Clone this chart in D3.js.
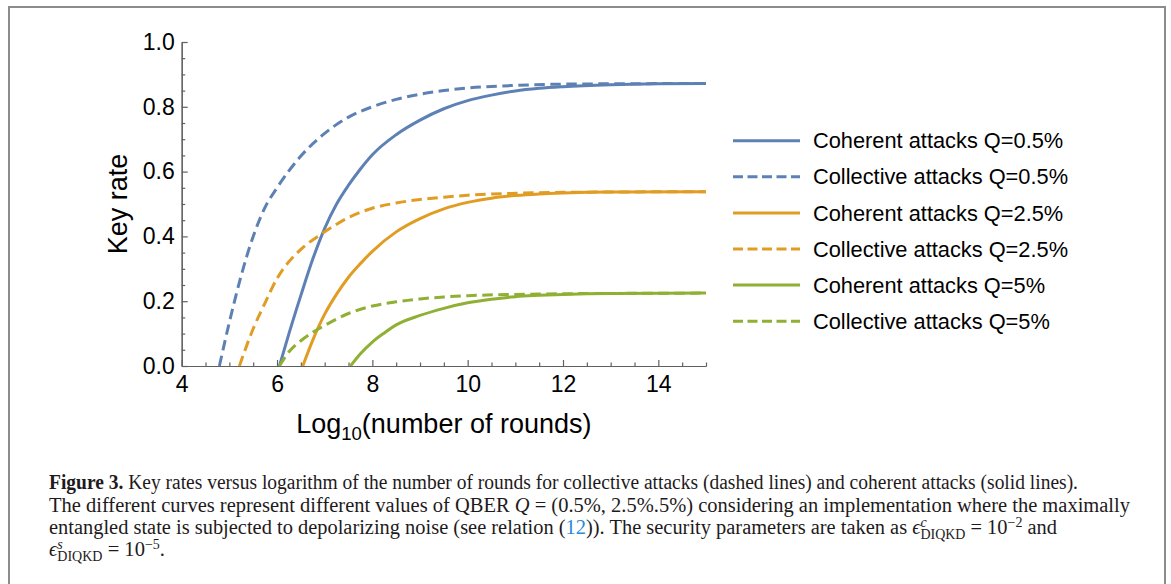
<!DOCTYPE html>
<html>
<head>
<meta charset="utf-8">
<script src="https://cdn.jsdelivr.net/npm/d3@7"></script>
<style>
  html, body { margin: 0; padding: 0; background: #fff; }
  svg { display: block; }
  .chart-text { font-family: 'Liberation Sans', Arial, sans-serif; fill: #000; }
  .caption { font-family: 'Liberation Serif', 'Times New Roman', serif; font-size: 20.5px; fill: #1e1a1b; }
</style>
</head>
<body>
<svg id="chart" width="1171" height="584"></svg>
<script>
// curves: [log10(number of rounds), key rate]
var coherentQ05 = [[6.05, 0], [6.25, 0.1], [6.5, 0.218], [6.75, 0.33], [7, 0.425], [7.25, 0.5],
  [7.5, 0.558], [7.75, 0.608], [8, 0.652], [8.5, 0.714], [9, 0.759], [9.5, 0.794], [10, 0.819],
  [10.5, 0.836], [11, 0.849], [11.5, 0.857], [12, 0.862], [13, 0.868], [14, 0.871], [15, 0.872]];
var collectiveQ05 = [[4.79, 0], [5, 0.135], [5.25, 0.28], [5.5, 0.4], [5.75, 0.49], [6, 0.55],
  [6.5, 0.648], [7, 0.718], [7.5, 0.768], [8, 0.8], [8.5, 0.823], [9, 0.839], [9.5, 0.85], [10, 0.858],
  [11, 0.866], [12, 0.87], [13, 0.871], [15, 0.872]];
var coherentQ25 = [[6.54, 0], [6.75, 0.08], [7, 0.16], [7.25, 0.222], [7.5, 0.274], [7.75, 0.316],
  [8, 0.354], [8.5, 0.414], [9, 0.455], [9.5, 0.485], [10, 0.505], [10.5, 0.518], [11, 0.526],
  [11.5, 0.531], [12, 0.534], [13, 0.537], [15, 0.538]];
var collectiveQ25 = [[5.21, 0], [5.5, 0.115], [5.75, 0.195], [6, 0.27], [6.25, 0.322], [6.5, 0.36],
  [7, 0.414], [7.5, 0.458], [8, 0.487], [8.5, 0.503], [9, 0.514], [9.5, 0.521], [10, 0.527],
  [11, 0.533], [12, 0.536], [13, 0.537], [15, 0.538]];
var coherentQ5 = [[7.54, 0], [7.75, 0.038], [8, 0.074], [8.25, 0.102], [8.5, 0.127], [9, 0.156],
  [9.5, 0.178], [10, 0.195], [10.5, 0.206], [11, 0.214], [11.5, 0.218], [12, 0.221], [13, 0.224],
  [15, 0.225]];
var collectiveQ5 = [[6.05, 0], [6.25, 0.044], [6.5, 0.078], [6.75, 0.104], [7, 0.125], [7.5, 0.162],
  [8, 0.185], [8.5, 0.198], [9, 0.207], [9.5, 0.213], [10, 0.217], [11, 0.221], [12, 0.223],
  [13, 0.224], [15, 0.225]];

var seriesLabels = ['Coherent attacks Q=0.5%', 'Collective attacks Q=0.5%', 'Coherent attacks Q=2.5%',
  'Collective attacks Q=2.5%', 'Coherent attacks Q=5%', 'Collective attacks Q=5%'];
var xTicks = [4, 6, 8, 10, 12, 14];
var yTicks = [0, 0.2, 0.4, 0.6, 0.8, 1.0];

var BLUE = '#5e81b5', ORANGE = '#e19c24', GREEN = '#8fb032';
var DASH = '10.5,5.5';

var series = [
  { label: seriesLabels[0], data: coherentQ05, color: BLUE, dashed: false },
  { label: seriesLabels[1], data: collectiveQ05, color: BLUE, dashed: true },
  { label: seriesLabels[2], data: coherentQ25, color: ORANGE, dashed: false },
  { label: seriesLabels[3], data: collectiveQ25, color: ORANGE, dashed: true },
  { label: seriesLabels[4], data: coherentQ5, color: GREEN, dashed: false },
  { label: seriesLabels[5], data: collectiveQ5, color: GREEN, dashed: true }
];

var margin = { top: 42, left: 181.7 },
  width = 524.3,
  height = 324;

var svg = d3.select('#chart');

// frame around figure + caption
svg.append('rect')
  .attr('x', 9).attr('y', 7)
  .attr('width', 1156).attr('height', 640)
  .attr('fill', 'none')
  .attr('stroke', '#8c8c8c')
  .attr('stroke-width', 2);

var g = svg.append('g')
  .attr('transform', 'translate(' + margin.left + ',' + margin.top + ')');

var x = d3.scaleLinear().domain([4, 15]).range([0, width]);
var y = d3.scaleLinear().domain([0, 1]).range([height, 0]);

var xMinor = d3.range(4, 15.01, 0.5).filter(function (d) { return xTicks.indexOf(d) < 0; });
var yMinor = d3.range(0, 21).map(function (d) { return d / 20; })
  .filter(function (d) { return d % 0.2 > 1e-6 && 0.2 - (d % 0.2) > 1e-6; });

function styleAxis(sel) {
  sel.attr('font-size', null).attr('font-family', null);
  sel.selectAll('path, line').attr('stroke', '#606060').attr('stroke-width', 1.2);
  sel.selectAll('text').attr('class', 'chart-text').style('font-size', '23px').attr('fill', '#000');
}

// x axis
g.append('g')
  .attr('transform', 'translate(0,' + height + ')')
  .call(d3.axisBottom(x).tickValues(xMinor).tickSizeInner(-3.5).tickSizeOuter(0).tickFormat(''))
  .call(styleAxis);
g.append('g')
  .attr('transform', 'translate(0,' + height + ')')
  .call(d3.axisBottom(x).tickValues(xTicks).tickSizeInner(-6).tickSizeOuter(0).tickPadding(10)
    .tickFormat(d3.format('d')))
  .call(styleAxis);

// y axis
g.append('g')
  .call(d3.axisLeft(y).tickValues(yMinor).tickSizeInner(-3.5).tickSizeOuter(0).tickFormat(''))
  .call(styleAxis);
g.append('g')
  .call(d3.axisLeft(y).tickValues(yTicks).tickSizeInner(-6).tickSizeOuter(0).tickPadding(7)
    .tickFormat(d3.format('.1f')))
  .call(styleAxis);

// axis titles
var xTitle = g.append('text')
  .attr('class', 'chart-text')
  .attr('x', width / 2)
  .attr('y', height + 67)
  .attr('text-anchor', 'middle')
  .style('font-size', '27px');
xTitle.append('tspan').text('Log');
xTitle.append('tspan').attr('dy', 7).style('font-size', '18.5px').text('10');
xTitle.append('tspan').attr('dy', -7).text('(number of rounds)');

g.append('text')
  .attr('class', 'chart-text')
  .attr('transform', 'translate(' + (-54.5) + ',' + (height / 2) + ') rotate(-90)')
  .attr('text-anchor', 'middle')
  .style('font-size', '27px')
  .text('Key rate');

// curves
g.append('defs').append('clipPath').attr('id', 'plot-clip')
  .append('rect')
  .attr('x', 0).attr('y', -5)
  .attr('width', width + 3).attr('height', height + 5);

var line = d3.line()
  .x(function (d) { return x(d[0]); })
  .y(function (d) { return y(d[1]); })
  .curve(d3.curveMonotoneX);

g.append('g')
  .attr('clip-path', 'url(#plot-clip)')
  .selectAll('path')
  .data(series)
  .enter()
  .append('path')
  .attr('d', function (d) { return line(d.data); })
  .attr('fill', 'none')
  .attr('stroke', function (d) { return d.color; })
  .attr('stroke-width', 3)
  .attr('stroke-dasharray', function (d) { return d.dashed ? DASH : null; });

// legend
var legend = svg.append('g').attr('transform', 'translate(733,140.7)');
var rows = legend.selectAll('g')
  .data(series)
  .enter()
  .append('g')
  .attr('transform', function (d, i) { return 'translate(0,' + i * 36.1 + ')'; });
rows.append('line')
  .attr('x1', 0).attr('x2', 67)
  .attr('stroke', function (d) { return d.color; })
  .attr('stroke-width', 3)
  .attr('stroke-dasharray', function (d) { return d.dashed ? '10,4.5' : null; });
rows.append('text')
  .attr('class', 'chart-text')
  .attr('x', 80)
  .attr('dy', '0.35em')
  .style('font-size', '21.8px')
  .text(function (d) { return d.label; });

// caption
var captionLines = [
  [{ t: 'Figure 3.', bold: true },
    { t: ' Key rates versus logarithm of the number of rounds for collective attacks (dashed lines) and coherent attacks (solid lines).' }],
  [{ t: 'The different curves represent different values of QBER ' }, { t: 'Q', italic: true },
    { t: ' = (0.5%,  2.5%.5%) considering an implementation where the maximally' }],
  [{ t: 'entangled state is subjected to depolarizing noise (see relation (' }, { t: '12', color: '#2a8bd2' },
    { t: ')). The security parameters are taken as ' }, { t: '\u03f5', italic: true },
    { t: 'c', pos: 'sup', italic: true }, { t: 'DIQKD', pos: 'sub' }, { t: ' = 10' }, { t: '\u22122', pos: 'sup' },
    { t: ' and' }],
  [{ t: '\u03f5', italic: true }, { t: 's', pos: 'sup', italic: true }, { t: 'DIQKD', pos: 'sub' },
    { t: ' = 10' }, { t: '\u22125', pos: 'sup' }, { t: '.' }]
];
var captionWidths = [1029, 1081, 1008, 116];
var captionBaselines = [489, 511.5, 534, 556];
var SHIFT = { sup: -7, sub: 5 };

captionLines.forEach(function (segments, i) {
  var text = svg.append('text')
    .attr('class', 'caption')
    .attr('x', 49)
    .attr('y', captionBaselines[i]);
  var shift = 0, lastSup = null;
  segments.forEach(function (s) {
    var target = SHIFT[s.pos] || 0;
    var span = text.append('tspan').text(s.t);
    if (target !== shift) span.attr('dy', target - shift);
    if (s.pos === 'sub' && lastSup) {
      span.attr('dx', -lastSup.node().getComputedTextLength());
    }
    if (s.pos) span.style('font-size', '14px');
    if (s.bold) span.style('font-weight', 'bold');
    if (s.italic) span.style('font-style', 'italic');
    if (s.color) span.attr('fill', s.color);
    lastSup = s.pos === 'sup' ? span : null;
    shift = target;
  });
  text.attr('textLength', captionWidths[i]).attr('lengthAdjust', 'spacingAndGlyphs');
});
</script>
</body>
</html>
